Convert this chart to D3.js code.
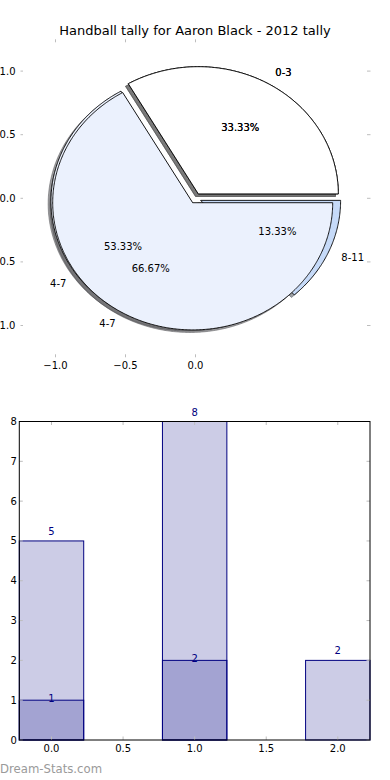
<!DOCTYPE html>
<html>
<head>
<meta charset="utf-8">
<script src="https://cdn.jsdelivr.net/npm/d3@7"></script>
<style>
html,body{margin:0;padding:0;background:#fff;}
svg{display:block;font-family:"DejaVu Sans",sans-serif;}
</style>
</head>
<body>
<svg id="chart" width="390" height="780"></svg>
<script>
// ---------- data ----------
const chartTitle = "Handball tally for Aaron Black - 2012 tally";
const pieLabelsA = ["0-3", "4-7"];
const pieValuesA = [1, 2];
const pieColorsA = ["#ffffff", "#ebf1fd"];
const pieLabelsB = ["0-3", "4-7", "8-11"];
const pieValuesB = [5, 8, 2];
const pieColorsB = ["#ffffff", "#ebf1fd", "#c6daf8"];
const pieXTicks = [-1.0, -0.5, 0.0];
const pieYTicks = [1.0, 0.5, 0.0, -0.5, -1.0];

const barCategories = [0, 1, 2];
const barTotals = [5, 8, 2];
const barSubset = [1, 2, 0];
const barXTicks = [0.0, 0.5, 1.0, 1.5, 2.0];
const barYTicks = [0, 1, 2, 3, 4, 5, 6, 7, 8];
const watermark = "Dream-Stats.com";

// ---------- setup ----------
const svg = d3.select("#chart");
const explode = 0.04;
const fmtPct = v => (v * 100).toFixed(2) + "%";
const fmt1 = d3.format(".1f");
const minusFmt = v => fmt1(v).replace("-", "\u2212");

// pie axes
const px = d3.scaleLinear().domain([-1.25, 1.25]).range([20.5, 370.5]);
const py = d3.scaleLinear().domain([-1.25, 1.25]).range([357.3, 39.3]);

svg.append("text").attr("x", 195).attr("y", 34.5).attr("text-anchor", "middle")
  .attr("font-size", 13).attr("fill", "#000").text(chartTitle);

const tickCol = "#bdbdbd";
const pg = svg.append("g");
// ticks pie
pieXTicks.forEach(t => {
  pg.append("line").attr("x1", px(t)).attr("x2", px(t)).attr("y1", py.range()[1]).attr("y2", py.range()[1] + 3).attr("stroke", tickCol);
  pg.append("line").attr("x1", px(t)).attr("x2", px(t)).attr("y1", py.range()[0]).attr("y2", py.range()[0] - 3).attr("stroke", tickCol);
  pg.append("text").attr("x", px(t)).attr("y", 368.5).attr("text-anchor", "middle").attr("font-size", 10).text(minusFmt(t));
});
pieYTicks.forEach(t => {
  pg.append("line").attr("x1", px.range()[0]).attr("x2", px.range()[0] + 2.5).attr("y1", py(t)).attr("y2", py(t)).attr("stroke", tickCol);
  pg.append("line").attr("x1", px.range()[1]).attr("x2", px.range()[1] - 3.5).attr("y1", py(t)).attr("y2", py(t)).attr("stroke", tickCol);
  pg.append("text").attr("x", 15.5).attr("y", py(t)).attr("dy", "0.35em").attr("text-anchor", "end").attr("font-size", 10).text(minusFmt(t));
});

const pieGen = d3.pie().sort(null).startAngle(0).endAngle(2 * Math.PI);
function wedgePoints(d, ox, oy) {
  const th0 = d.startAngle, th1 = d.endAngle, mid = (th0 + th1) / 2;
  const cx = explode * Math.cos(mid) + ox, cy = explode * Math.sin(mid) + oy;
  const pts = [[cx, cy]];
  const n = Math.max(8, Math.ceil((th1 - th0) / 0.01));
  for (let i = 0; i <= n; i++) {
    const a = th0 + (th1 - th0) * i / n;
    pts.push([cx + Math.cos(a), cy + Math.sin(a)]);
  }
  return pts;
}
const line = d3.line().x(p => px(p[0])).y(p => py(p[1])).curve(d3.curveLinear);

const piesDef = [
  {labels: pieLabelsB, values: pieValuesB, colors: pieColorsB},
  {labels: pieLabelsA, values: pieValuesA, colors: pieColorsA}
];
const shadowG = svg.append("g"), wedgeG = svg.append("g"), textG = svg.append("g");
piesDef.forEach(p => {
  const arcs = pieGen(p.values);
  const total = d3.sum(p.values);
  arcs.forEach((d, i) => {
    const c = d3.rgb(p.colors[i]);
    const sc = d3.rgb(c.r * 0.3, c.g * 0.3, c.b * 0.3);
    shadowG.append("path").attr("d", line(wedgePoints(d, -0.02, -0.02)) + "Z")
      .attr("fill", sc).attr("fill-opacity", 0.5).attr("stroke", sc).attr("stroke-opacity", 0.5).attr("stroke-width", 1);
    wedgeG.append("path").attr("d", line(wedgePoints(d, 0, 0)) + "Z")
      .attr("fill", p.colors[i]).attr("stroke", "#000").attr("stroke-width", 0.9).attr("stroke-linejoin", "round");
    const mid = (d.startAngle + d.endAngle) / 2;
    const cx = explode * Math.cos(mid), cy = explode * Math.sin(mid);
    const lx = cx + 1.1 * Math.cos(mid), ly = cy + 1.1 * Math.sin(mid);
    textG.append("text").attr("x", px(lx)).attr("y", py(ly)).attr("dy", "0.35em")
      .attr("text-anchor", lx > 0 ? "start" : "end").attr("font-size", 10).text(p.labels[i]);
    const tx = cx + 0.6 * Math.cos(mid), ty = cy + 0.6 * Math.sin(mid);
    textG.append("text").attr("x", px(tx)).attr("y", py(ty)).attr("dy", "0.35em")
      .attr("text-anchor", "middle").attr("font-size", 10).text(fmtPct(d.value / total));
  });
});

// ---------- bar chart ----------
const bx = d3.scaleLinear().domain([-0.225, 2.225]).range([19.3, 370]);
const by = d3.scaleLinear().domain([0, 8]).range([740, 421.5]);
const barW = 0.45;
const bg = svg.append("g");
const navy = "#000080";
barCategories.forEach((c, i) => {
  if (barTotals[i] > 0) {
    bg.append("rect").attr("x", bx(c - barW / 2)).attr("width", bx(c + barW / 2) - bx(c - barW / 2))
      .attr("y", by(barTotals[i])).attr("height", by(0) - by(barTotals[i]))
      .attr("fill", navy).attr("fill-opacity", 0.2).attr("stroke", navy).attr("stroke-width", 1);
  }
});
barCategories.forEach((c, i) => {
  if (barSubset[i] > 0) {
    bg.append("rect").attr("x", bx(c - barW / 2)).attr("width", bx(c + barW / 2) - bx(c - barW / 2))
      .attr("y", by(barSubset[i])).attr("height", by(0) - by(barSubset[i]))
      .attr("fill", navy).attr("fill-opacity", 0.2).attr("stroke", navy).attr("stroke-width", 1);
  }
});
barCategories.forEach((c, i) => {
  if (barTotals[i] > 0) bg.append("text").attr("x", bx(c)).attr("y", by(barTotals[i]) - 6)
    .attr("text-anchor", "middle").attr("font-size", 10).attr("fill", navy).text(barTotals[i]);
  if (barSubset[i] > 0) bg.append("text").attr("x", bx(c)).attr("y", by(barSubset[i]) + 1.8)
    .attr("text-anchor", "middle").attr("font-size", 10).attr("fill", navy).text(barSubset[i]);
});
// ticks
barXTicks.forEach(t => {
  bg.append("line").attr("x1", bx(t)).attr("x2", bx(t)).attr("y1", by(0)).attr("y2", by(0) - 3.5).attr("stroke", tickCol);
  bg.append("line").attr("x1", bx(t)).attr("x2", bx(t)).attr("y1", by(8)).attr("y2", by(8) + 3.5).attr("stroke", tickCol);
  bg.append("text").attr("x", bx(t)).attr("y", 752).attr("text-anchor", "middle").attr("font-size", 10).text(fmt1(t));
});
barYTicks.forEach(t => {
  bg.append("line").attr("x1", bx.range()[0]).attr("x2", bx.range()[0] + 3.5).attr("y1", by(t)).attr("y2", by(t)).attr("stroke", tickCol);
  bg.append("line").attr("x1", bx.range()[1]).attr("x2", bx.range()[1] - 3.5).attr("y1", by(t)).attr("y2", by(t)).attr("stroke", tickCol);
  bg.append("text").attr("x", 16.8).attr("y", by(t)).attr("dy", "0.35em").attr("text-anchor", "end").attr("font-size", 10).text(t);
});
bg.append("rect").attr("x", bx.range()[0]).attr("y", by.range()[1])
  .attr("width", bx.range()[1] - bx.range()[0]).attr("height", by.range()[0] - by.range()[1])
  .attr("fill", "none").attr("stroke", "#000").attr("stroke-width", 1);

svg.append("text").attr("x", 0).attr("y", 773).attr("font-size", 11.7).attr("fill", "#9a9a9a").text(watermark);
</script>
</body>
</html>
